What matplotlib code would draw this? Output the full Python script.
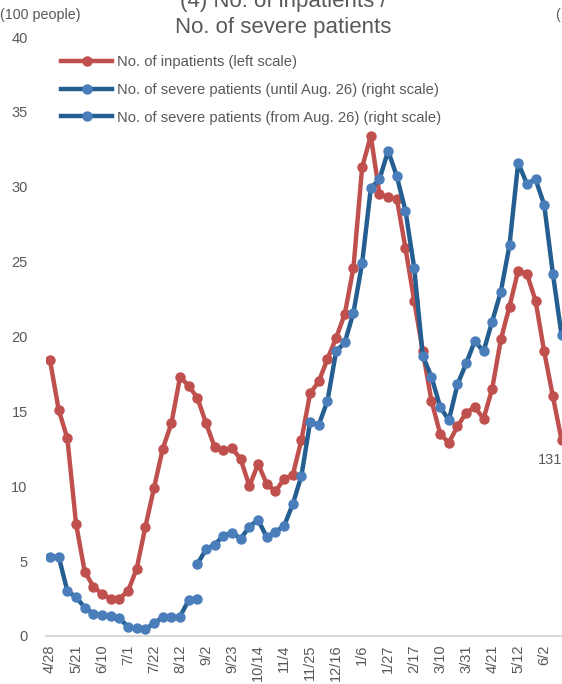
import numpy as np
import matplotlib
matplotlib.use("Agg")
import matplotlib.pyplot as plt

# weekly values (left scale units)
inpatients = [18.4, 15.1, 13.2, 7.5, 4.3, 3.3, 2.8, 2.5, 2.5, 3.0,
              4.5, 7.3, 9.9, 12.5, 14.2, 17.3, 16.7, 15.9, 14.2, 12.6,
              12.4, 12.55, 11.8, 10.0, 11.5, 10.15, 9.65, 10.5, 10.75, 13.1,
              16.2, 17.0, 18.5, 19.9, 21.5, 24.6, 31.3, 33.4, 29.5, 29.3,
              29.2, 25.9, 22.4, 19.0, 15.7, 13.5, 12.9, 14.0, 14.9, 15.3,
              14.5, 16.5, 19.8, 22.0, 24.4, 24.2, 22.4, 19.0, 16.0, 13.1]

severe_until = [5.3, 5.3, 3.0, 2.6, 1.9, 1.5, 1.4, 1.35, 1.2, 0.6,
                0.5, 0.45, 0.85, 1.25, 1.25, 1.3, 2.4, 2.45]

severe_from_start = 17
severe_from = [4.8, 5.8, 6.1, 6.7, 6.9, 6.5, 7.3, 7.75, 6.6, 6.95,
               7.35, 8.8, 10.7, 14.3, 14.1, 15.7, 19.0, 19.6, 21.6, 24.9,
               29.9, 30.5, 32.4, 30.7, 28.4, 24.6, 18.7, 17.3, 15.3, 14.4,
               16.8, 18.2, 19.7, 19.0, 21.0, 23.0, 26.1, 31.6, 30.2, 30.5,
               28.8, 24.2, 20.1]

tick_labels = ["4/28", "5/21", "6/10", "7/1", "7/22", "8/12", "9/2", "9/23",
               "10/14", "11/4", "11/25", "12/16", "1/6", "1/27", "2/17",
               "3/10", "3/31", "4/21", "5/12", "6/2"]

red = "#C0504D"
blue_line = "#255E91"
blue_mark = "#4A7EBB"
grey = "#595959"

plt.rcParams['font.family'] = ['Liberation Sans', 'DejaVu Sans']

fig = plt.figure(figsize=(5.62, 6.84), dpi=100)
ax = fig.add_axes([0.0813, 0.0702, 0.941, 0.8757])

x_red = np.arange(len(inpatients))
x_b1 = np.arange(len(severe_until))
x_b2 = np.arange(len(severe_from)) + severe_from_start

ax.plot(x_red, inpatients, color=red, lw=3.2, marker='o', ms=6.5,
        mfc=red, mec=red, label="No. of inpatients (left scale)", zorder=3)
ax.plot(x_b1, severe_until, color=blue_line, lw=3.2, marker='o', ms=6.5,
        mfc=blue_mark, mec=blue_mark,
        label="No. of severe patients (until Aug. 26) (right scale)", zorder=4)
ax.plot(x_b2, severe_from, color=blue_line, lw=3.2, marker='o', ms=6.5,
        mfc=blue_mark, mec=blue_mark,
        label="No. of severe patients (from Aug. 26) (right scale)", zorder=4)

ax.set_xlim(-0.5, 60.5)
ax.set_ylim(0, 40)
ax.set_yticks(np.arange(0, 41, 5))
ax.set_xticks(np.arange(0, 3 * len(tick_labels), 3))
ax.set_xticklabels(tick_labels, rotation=90)
ax.tick_params(axis='both', length=0, colors=grey, labelsize=10.5)
ax.tick_params(axis='y', pad=13)
ax.tick_params(axis='x', pad=6)

for s in ['top', 'right', 'left']:
    ax.spines[s].set_visible(False)
ax.spines['bottom'].set_color("#D9D9D9")
ax.spines['bottom'].set_linewidth(1.5)

leg = ax.legend(loc='upper left', bbox_to_anchor=(0.098, 0.928),
                bbox_transform=fig.transFigure, frameon=False,
                fontsize=10.6, handlelength=3.5, handletextpad=0.3,
                labelspacing=0.93, borderaxespad=0)
for t in leg.get_texts():
    t.set_color(grey)

# title, first line partly cut by the top edge as in the source
fig.text(0.504, 0.9898, "(4) No. of inpatients /", ha='center',
         va='baseline', fontsize=16, color=grey)
fig.text(0.504, 0.9518, "No. of severe patients", ha='center',
         va='baseline', fontsize=16, color=grey)
fig.text(0.0, 0.978, "(100 people)", ha='left', va='center', fontsize=10.3,
         color=grey)
fig.text(0.99, 0.978, "(100 people)", ha='left', va='center', fontsize=10.3,
         color=grey)
fig.text(0.957, 0.327, "131", ha='left', va='center', fontsize=10.5,
         color=grey)

fig.savefig("out.png", dpi=100)
